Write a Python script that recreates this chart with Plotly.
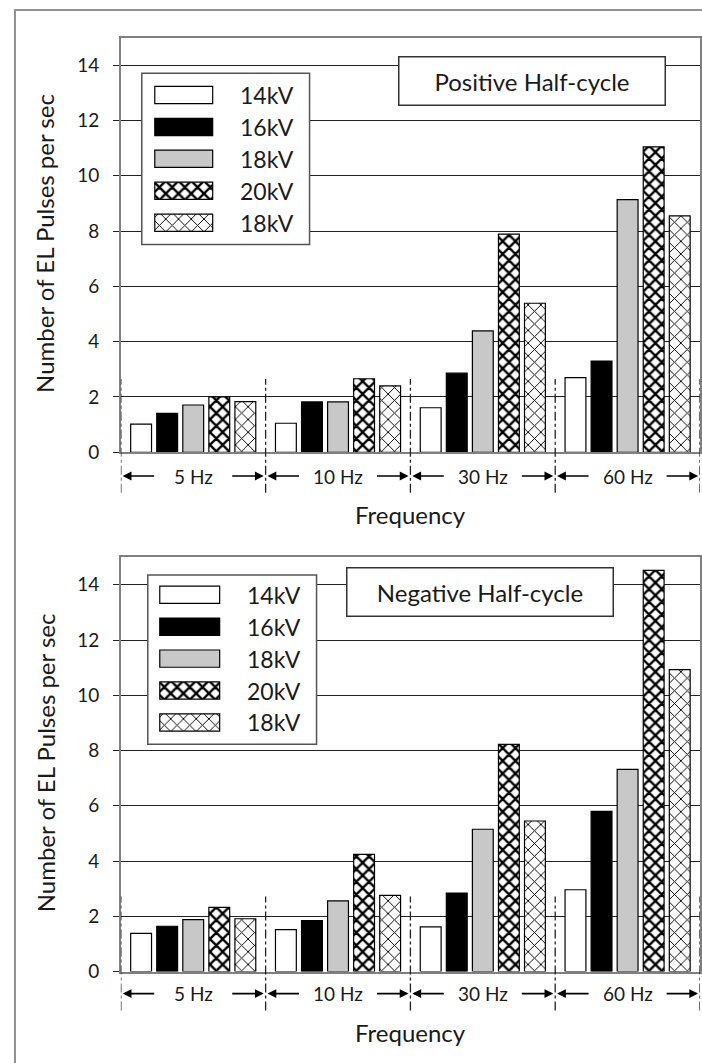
import plotly.graph_objects as go

W, H = 702, 1063

# ---------------- data ----------------
freqs = ['5 Hz', '10 Hz', '30 Hz', '60 Hz']
series_names = ['14kV', '16kV', '18kV', '20kV', '18kV']

pos_14kv = [1.02, 1.05, 1.61, 2.70]
pos_16kv = [1.41, 1.82, 2.86, 3.30]
pos_18kv = [1.71, 1.82, 4.39, 9.14]
pos_20kv = [2.00, 2.66, 7.89, 11.05]
pos_18kv_b = [1.83, 2.40, 5.39, 8.55]

neg_14kv = [1.38, 1.52, 1.62, 2.96]
neg_16kv = [1.64, 1.84, 2.84, 5.80]
neg_18kv = [1.88, 2.56, 5.15, 7.32]
neg_20kv = [2.32, 4.24, 8.22, 14.52]
neg_18kv_b = [1.91, 2.76, 5.45, 10.93]

y_ticks = [0, 2, 4, 6, 8, 10, 12, 14]
panel_titles = ['Positive Half-cycle', 'Negative Half-cycle']
y_title = 'Number of EL Pulses per sec'
x_title = 'Frequency'

pos_series = [pos_14kv, pos_16kv, pos_18kv, pos_20kv, pos_18kv_b]
neg_series = [neg_14kv, neg_16kv, neg_18kv, neg_20kv, neg_18kv_b]

# ---------------- styles ----------------
FONT = 'Lato'
TXT = '#1a1a1a'
styles = [
    dict(color='white', shape='', fg='black', bg='white', size=8, sol=0.3),
    dict(color='black', shape='', fg='black', bg='black', size=8, sol=0.3),
    dict(color='#c8c8c8', shape='', fg='black', bg='#c8c8c8', size=8, sol=0.3),
    dict(color='white', shape='x', fg='black', bg='white', size=9, sol=0.45),
    dict(color='white', shape='x', fg='black', bg='white', size=9, sol=0.2),
]


def px(x):
    return x / W


def py(y):
    return 1 - y / H


def marker_for(st):
    return dict(color=st['color'], line=dict(color='black', width=1.2),
                pattern=dict(shape=st['shape'], fgcolor=st['fg'], bgcolor=st['bg'],
                             size=st['size'], solidity=st['sol'], fillmode='replace'))


panels = [dict(top=38, base=457, legend=(142, 74, 310, 247), sw_x=(155, 213),
               rows=(96, 225), txt_x=238, title_box=(399, 57, 667, 107),
               lab_y=481, sep=(383, 498), xt_y=520),
          dict(top=563, base=981.7, legend=(148, 581, 317, 752), sw_x=(160, 220),
               rows=(601, 730), txt_x=245, title_box=(347, 573, 615, 623),
               lab_y=1004, sep=(906, 1021), xt_y=1043)]
PL, PR = 121, 701
YMAX = 15

fig = go.Figure()
layout = dict(
    width=W, height=H, margin=dict(l=0, r=0, t=0, b=0),
    paper_bgcolor='white', plot_bgcolor='white',
    barmode='group', bargap=0.10, bargroupgap=0.20,
    showlegend=False, font=dict(family=FONT, color=TXT),
)
shapes, annots = [], []

for k, (pnl, data) in enumerate(zip(panels, [pos_series, neg_series])):
    xa = 'x' if k == 0 else 'x2'
    ya = 'y' if k == 0 else 'y2'
    sxa = 'x3' if k == 0 else 'x4'
    sya = 'y3' if k == 0 else 'y4'
    xkey = 'xaxis' if k == 0 else 'xaxis2'
    ykey = 'yaxis' if k == 0 else 'yaxis2'
    sxkey = 'xaxis3' if k == 0 else 'xaxis4'
    sykey = 'yaxis3' if k == 0 else 'yaxis4'

    for name, vals, st in zip(series_names, data, styles):
        fig.add_trace(go.Bar(x=freqs, y=vals, name=name, xaxis=xa, yaxis=ya,
                             marker=marker_for(st)))

    layout[xkey] = dict(domain=[px(PL), px(PR)], anchor=ya, type='category',
                        range=[-0.5, 3.5], showticklabels=False, ticks='',
                        showgrid=False, zeroline=False, showline=True, mirror=True,
                        linecolor='#808080', linewidth=1.5)
    layout[ykey] = dict(domain=[py(pnl['base']), py(pnl['top'])], anchor=xa,
                        range=[0, YMAX], tickvals=y_ticks, ticks='outside', ticklen=6,
                        tickcolor='#222', tickwidth=1, ticklabelstandoff=10,
                        tickfont=dict(size=19, color=TXT, family=FONT),
                        showgrid=True, gridcolor='#222', gridwidth=1, zeroline=False,
                        showline=True, mirror=True, linecolor='#808080', linewidth=1.5)

    # legend box (between grid and bars), in data coordinates of the panel
    lx0, ly0, lx1, ly1 = pnl['legend']
    pw, ph = PR - PL, pnl['base'] - pnl['top']
    cx = lambda p: (p - PL) / pw * 4 - 0.5
    cy = lambda p: (pnl['base'] - p) / ph * YMAX
    shapes.append(dict(type='rect', xref=xa, yref=ya, layer='between',
                       x0=cx(lx0), x1=cx(lx1), y0=cy(ly1), y1=cy(ly0),
                       fillcolor='white', line=dict(color='#555', width=1.5)))

    # legend swatches: one small bar per series on a dedicated axis pair
    r0, r1 = pnl['rows']
    step = (r1 - r0) / 4
    for i, st in enumerate(styles):
        fig.add_trace(go.Bar(x=[1], y=[4 - i], orientation='h', width=0.54, offset=-0.27,
                             xaxis=sxa, yaxis=sya, hoverinfo='skip',
                             marker=marker_for(st)))
    sx0, sx1 = pnl['sw_x']
    pad = 0.03 * (sx1 - sx0)
    layout[sxkey] = dict(domain=[px(sx0 - pad), px(sx1 + pad)], anchor=sya,
                         range=[-0.03, 1.03], visible=False, fixedrange=True)
    layout[sykey] = dict(domain=[py(r1 + step / 2), py(r0 - step / 2)], anchor=sxa,
                         range=[-0.5, 4.5], visible=False, fixedrange=True)
    for i, name in enumerate(series_names):
        annots.append(dict(xref='paper', yref='paper', x=px(pnl['txt_x']),
                           y=py(r0 + i * step), text=name, showarrow=False,
                           xanchor='left', yanchor='middle',
                           font=dict(size=23, color=TXT, family=FONT)))

    # panel title box
    bx0, by0, bx1, by1 = pnl['title_box']
    annots.append(dict(xref='paper', yref='paper', x=px((bx0 + bx1) / 2), y=py((by0 + by1) / 2),
                       text=panel_titles[k], showarrow=False, xanchor='center', yanchor='middle',
                       width=bx1 - bx0 - 3, height=by1 - by0 - 3, borderpad=0,
                       bgcolor='white', bordercolor='#333', borderwidth=1.5,
                       font=dict(size=24, color=TXT, family=FONT)))

    # y title
    annots.append(dict(xref='paper', yref='paper', x=px(45), y=py((pnl['top'] + pnl['base']) / 2 - 2),
                       text=y_title, textangle=-90, showarrow=False,
                       xanchor='center', yanchor='middle',
                       font=dict(size=24, color=TXT, family=FONT)))
    # x title
    annots.append(dict(xref='paper', yref='paper', x=px((PL + PR) / 2), y=py(pnl['xt_y']),
                       text=x_title, showarrow=False, xanchor='center', yanchor='middle',
                       font=dict(size=24, color=TXT, family=FONT)))

    # category labels, arrows and dashed separators
    s0, s1 = pnl['sep']
    for i, f in enumerate(freqs):
        annots.append(dict(xref=xa, yref='paper', x=i, y=py(pnl['lab_y']), text=f,
                           showarrow=False, xanchor='center', yanchor='middle',
                           font=dict(size=19, color=TXT, family=FONT)))
        for side in (-1, 1):
            annots.append(dict(xref=xa, yref='paper', x=i + side * 0.487, y=py(pnl['lab_y']),
                               text='', showarrow=True, arrowhead=2, arrowsize=1.1,
                               arrowwidth=1.6, arrowcolor='black',
                               ax=-side * 33, ay=0, axref='pixel', ayref='pixel', standoff=0))
    for j in range(len(freqs) + 1):
        shapes.append(dict(type='line', xref=xa, yref='paper', x0=j - 0.5, x1=j - 0.5,
                           y0=py(s1), y1=py(s0),
                           line=dict(color='#222', width=1.3, dash='dashdot')))

# outer frame
shapes.append(dict(type='rect', xref='paper', yref='paper', x0=px(15), x1=1.05,
                   y0=-0.05, y1=py(10), line=dict(color='#909090', width=2)))

layout['shapes'] = shapes
layout['annotations'] = annots
fig.update_layout(**layout)
fig.write_html('out.html', config={'displayModeBar': False},
               post_script="document.body.style.margin='0';")
